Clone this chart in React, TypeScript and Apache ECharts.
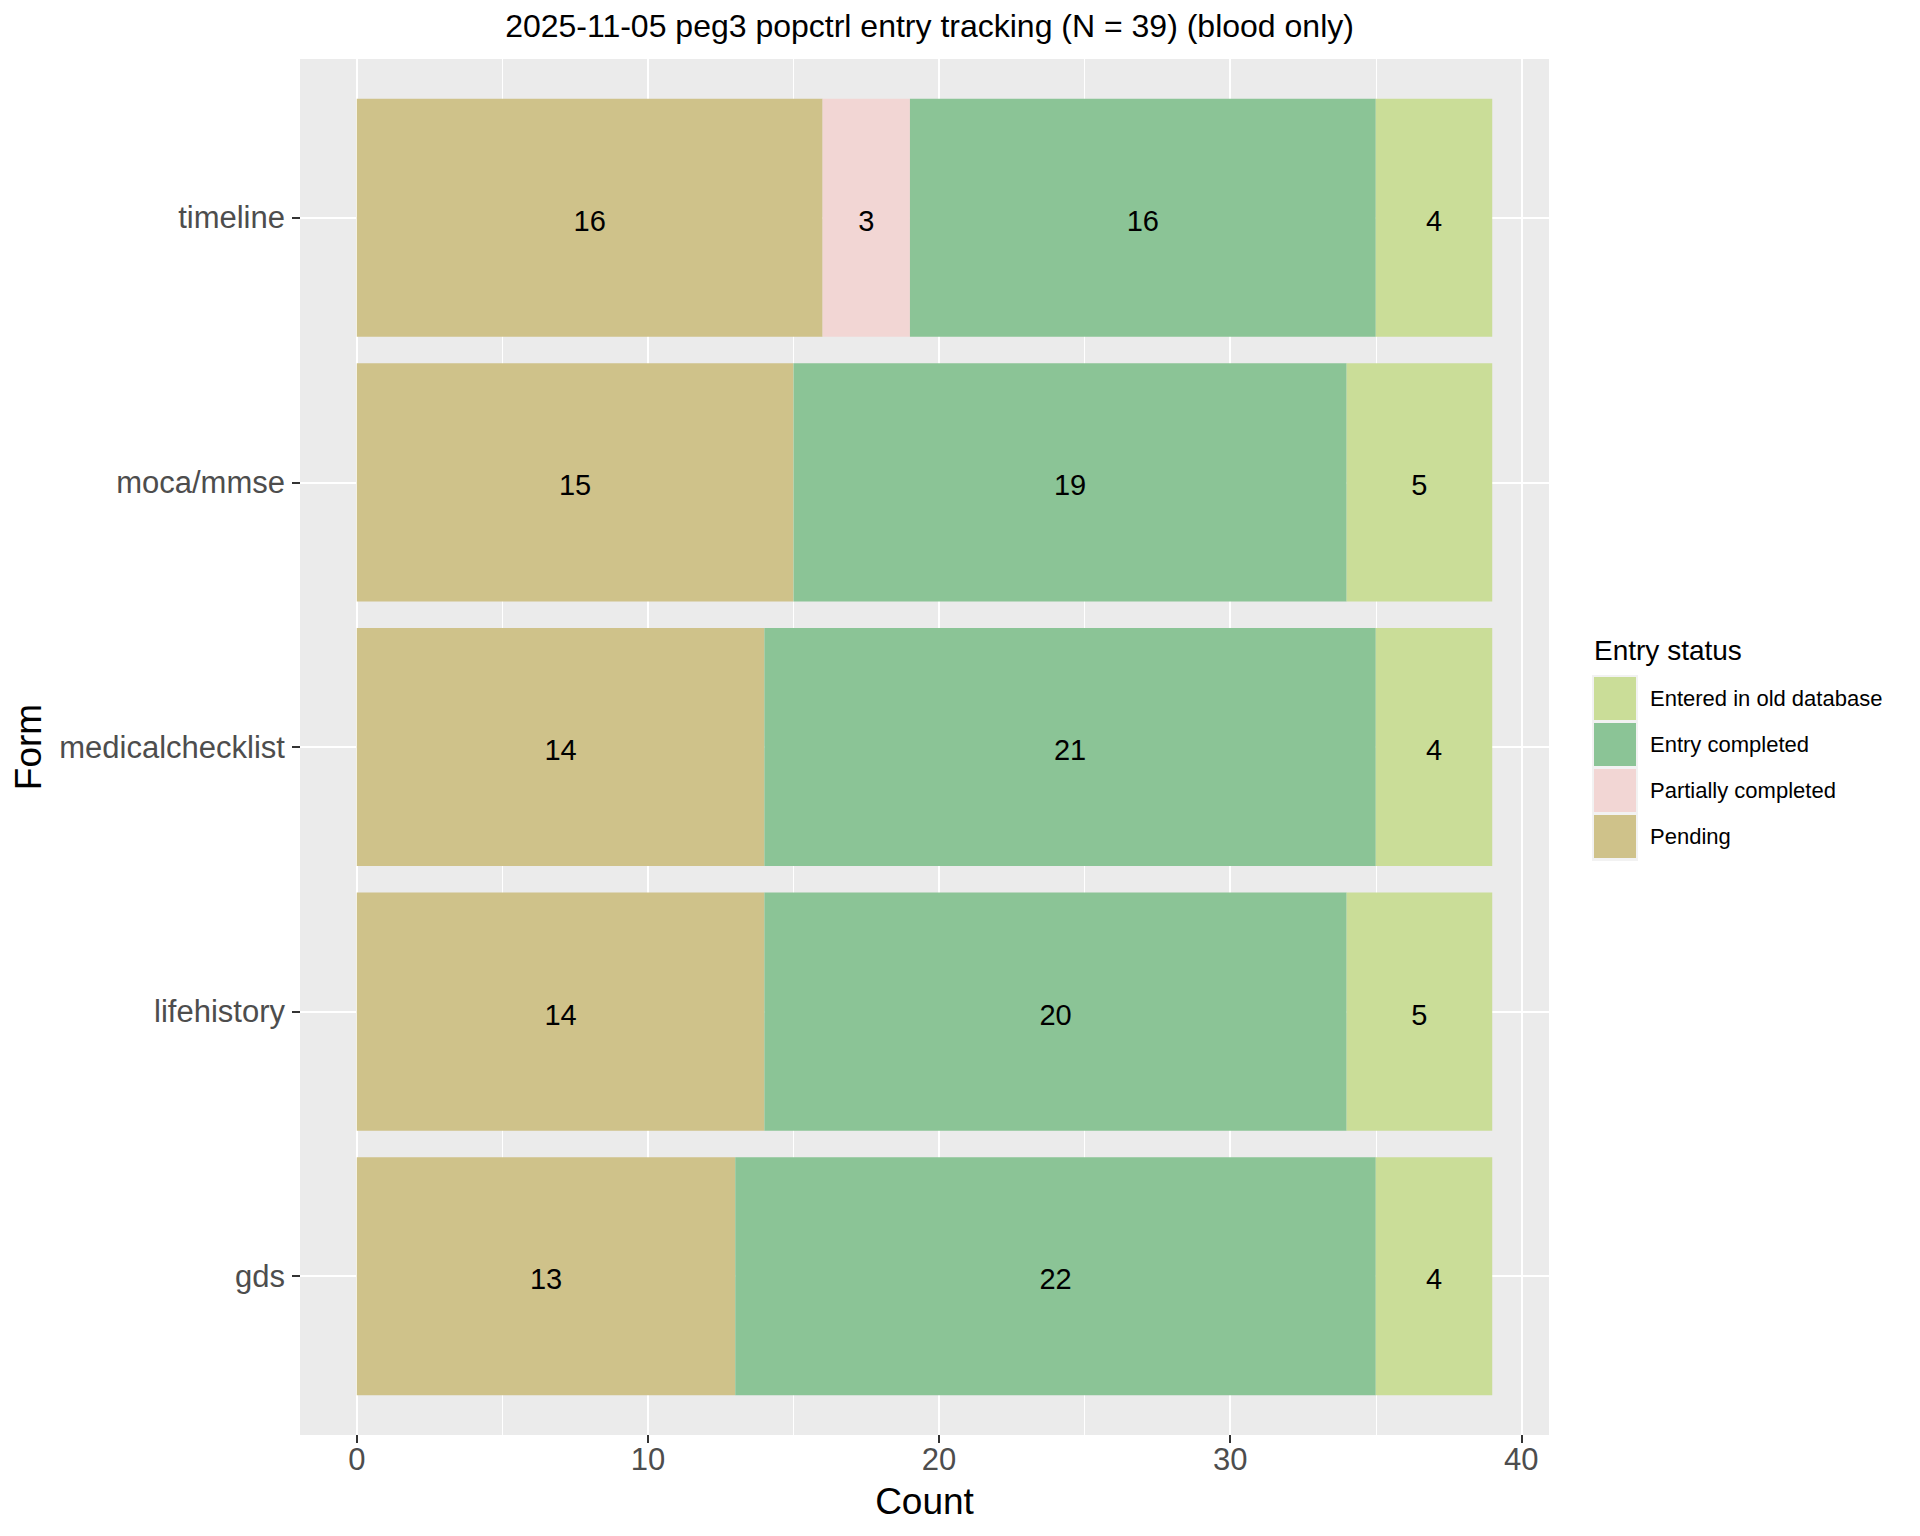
import React, { useEffect, useRef } from "react";
import * as echarts from "echarts";

// Categories from bottom (1) to top (5), as ggplot places factor levels
const FORMS = ["gds", "lifehistory", "medicalchecklist", "moca/mmse", "timeline"];
const STATUSES = ["Pending", "Partially completed", "Entry completed", "Entered in old database"];
const LEGEND_ORDER = ["Entered in old database", "Entry completed", "Partially completed", "Pending"];
const COLORS = ["#CFC28A", "#F2D6D4", "#8BC496", "#CADD98"];

const PENDING = [13, 14, 14, 15, 16];
const PARTIAL = [0, 0, 0, 0, 3];
const COMPLETED = [22, 20, 21, 19, 16];
const OLD_DB = [4, 5, 4, 5, 4];

const X_TICKS = [0, 10, 20, 30, 40];
const X_MINOR = [5, 15, 25, 35];
const Y_TICKS = FORMS.map((_, i) => i + 1);

const TITLE = "2025-11-05 peg3 popctrl entry tracking (N = 39) (blood only)";
const FONT = "'Liberation Sans', Arial, sans-serif";

export default function App() {
  const ref = useRef<HTMLDivElement>(null);

  useEffect(() => {
    document.body.style.margin = "0";
    if (!ref.current) return;
    const chart = echarts.init(ref.current, undefined, { renderer: "svg" });

    const values = [PENDING, PARTIAL, COMPLETED, OLD_DB];
    const cum = FORMS.map(() => 0);
    const series: any[] = values.map((vals, s) => {
      const data: number[][] = [];
      vals.forEach((v, i) => {
        const start = cum[i];
        cum[i] += v;
        if (v > 0) data.push([start, start + v, i + 1, v]);
      });
      const color = COLORS[s];
      return {
        type: "custom",
        name: STATUSES[s],
        itemStyle: { color },
        encode: { x: [0, 1], y: 2 },
        data,
        renderItem: (params: any, api: any) => {
          const x0 = api.value(0);
          const x1 = api.value(1);
          const y = api.value(2);
          const p0 = api.coord([x0, y + 0.45]);
          const p1 = api.coord([x1, y - 0.45]);
          return {
            type: "group",
            children: [
              {
                type: "rect",
                shape: { x: p0[0], y: p0[1], width: p1[0] - p0[0], height: p1[1] - p0[1] },
                style: { fill: color },
              },
              {
                type: "text",
                style: {
                  text: String(api.value(3)),
                  x: (p0[0] + p1[0]) / 2,
                  y: (p0[1] + p1[1]) / 2 + 3,
                  align: "center",
                  verticalAlign: "middle",
                  fontSize: 29,
                  fontFamily: FONT,
                  fill: "#000000",
                },
              },
            ],
          };
        },
      };
    });

    const option: any = {
      animation: false,
      textStyle: { fontFamily: FONT },
      title: {
        text: TITLE,
        left: 924.5,
        top: 5,
        textAlign: "center",
        textStyle: { fontSize: 32, fontWeight: "normal", color: "#000000", fontFamily: FONT },
      },
      grid: {
        left: 300,
        top: 59,
        width: 1249,
        height: 1376,
        show: true,
        backgroundColor: "#EBEBEB",
        borderWidth: 0,
      },
      legend: {
        orient: "vertical",
        left: 1594,
        top: 677,
        padding: 0,
        itemWidth: 42,
        itemHeight: 43,
        itemGap: 3,
        icon: "rect",
        data: LEGEND_ORDER,
        textStyle: { fontSize: 22, color: "#000000", fontFamily: FONT, padding: [3, 0, 0, 9] },
        selectedMode: false,
      },
      graphic: [
        {
          type: "rect",
          z: 0,
          shape: { x: 1592, y: 675, width: 46, height: 186 },
          style: { fill: "#F2F2F2" },
        },
        {
          type: "text",
          left: 1594,
          top: 636,
          style: { text: "Entry status", fontSize: 28, fill: "#000000", fontFamily: FONT },
        },
      ],
      xAxis: [
        {
          type: "value",
          min: -1.95,
          max: 40.95,
          axisLine: { show: false, onZero: false },
          axisTick: { show: true, length: 8, lineStyle: { color: "#333333", width: 2 }, customValues: X_TICKS },
          axisLabel: { customValues: X_TICKS, fontSize: 31, color: "#4D4D4D", margin: 9, fontFamily: FONT },
          splitLine: { show: true, lineStyle: { color: "#FFFFFF", width: 2 } },
          name: "Count",
          nameLocation: "middle",
          nameGap: 48,
          nameTextStyle: { fontSize: 37, color: "#000000", fontFamily: FONT },
        },
        {
          type: "value",
          min: -1.95,
          max: 40.95,
          position: "bottom",
          axisLine: { show: false, onZero: false },
          axisTick: { show: false, customValues: X_MINOR },
          axisLabel: { show: false, customValues: X_MINOR },
          splitLine: { show: true, lineStyle: { color: "#FFFFFF", width: 1 } },
        },
      ],
      yAxis: {
        type: "value",
        min: 0.4,
        max: 5.6,
        axisLine: { show: false, onZero: false },
        axisTick: { show: true, length: 8, lineStyle: { color: "#333333", width: 2 }, customValues: Y_TICKS },
        axisLabel: {
          customValues: Y_TICKS,
          fontSize: 31,
          color: "#4D4D4D",
          margin: 15,
          padding: [12, 0, 0, 0],
          fontFamily: FONT,
          formatter: (v: number) => FORMS[Math.round(v) - 1] ?? "",
        },
        splitLine: { show: true, lineStyle: { color: "#FFFFFF", width: 2 } },
        name: "Form",
        nameLocation: "middle",
        nameGap: 253,
        nameRotate: 90,
        nameTextStyle: { fontSize: 37, color: "#000000", fontFamily: FONT },
      },
      series,
    };

    chart.setOption(option);
    return () => chart.dispose();
  }, []);

  return <div ref={ref} style={{ width: 1920, height: 1536 }} />;
}
